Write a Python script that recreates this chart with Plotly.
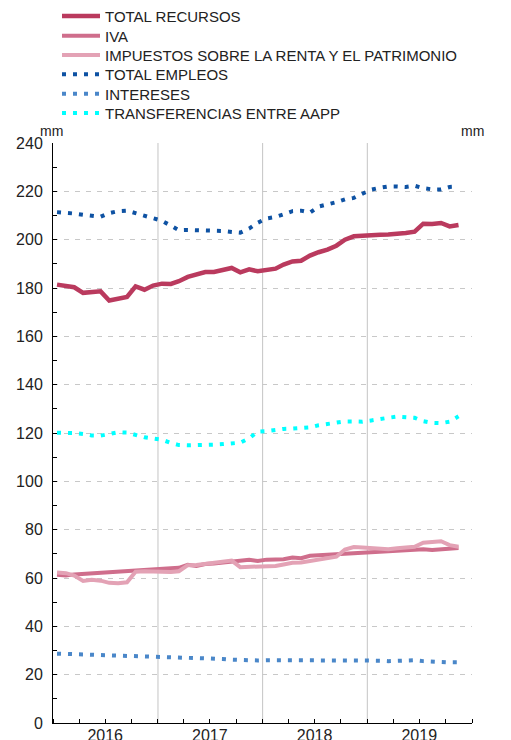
import plotly.graph_objects as go
import pandas as pd

# Monthly data, Jan 2016 - Nov 2019 (mm euros)
months = pd.date_range("2016-01-01", periods=47, freq="MS") + pd.Timedelta(days=14)

total_recursos = [181.4, 180.7, 180.3, 178.0, 178.3, 178.6, 174.8, 175.5, 176.3, 180.7, 179.3, 181.0,
                  181.8, 181.7, 182.8, 184.6, 185.5, 186.6, 186.6, 187.5, 188.3, 186.5, 187.7, 186.9,
                  187.3, 188.0, 189.7, 191.0, 191.3, 193.4, 194.8, 195.9, 197.5, 200.0, 201.4, 201.7,
                  201.8, 202.0, 202.1, 202.3, 202.8, 203.3, 206.6, 206.5, 206.9, 205.5, 206.1]
iva = [61.3, 61.0, 61.5, 61.7, 61.8, 62.2, 62.3, 62.6, 62.9, 63.0, 63.0, 63.2,
       63.8, 64.0, 64.2, 65.5, 65.0, 65.8, 66.0, 66.4, 66.8, 67.2, 67.5, 67.0,
       67.6, 67.7, 67.8, 68.5, 68.2, 69.2, 69.4, 69.6, 70.0, 70.2, 70.4, 70.5,
       70.6, 70.8, 71.0, 71.2, 71.4, 71.5, 71.9, 71.6, 71.8, 72.1, 72.4]
impuestos = [62.3, 62.0, 61.0, 58.8, 59.3, 58.9, 58.0, 57.8, 58.2, 62.6, 62.8, 62.6,
             62.6, 62.5, 62.8, 65.3, 65.4, 65.8, 66.3, 66.8, 67.2, 64.5, 64.7, 64.8,
             64.9, 65.0, 65.6, 66.3, 66.4, 67.0, 67.8, 68.5, 68.8, 71.8, 72.8, 72.6,
             72.5, 72.4, 71.9, 72.3, 72.6, 72.9, 74.6, 74.9, 75.2, 73.6, 72.9]
total_empleos = [211.4, 211.3, 210.8, 210.3, 210.0, 209.5, 211.0, 211.8, 212.0, 211.0, 210.2, 209.0,
                 207.8, 205.8, 203.9, 204.0, 204.0, 204.0, 203.7, 203.6, 203.2, 202.9, 204.6, 207.0,
                 208.8, 209.4, 210.5, 211.8, 212.0, 211.2, 213.7, 214.4, 215.5, 216.7, 217.3, 219.0,
                 220.7, 221.5, 222.0, 222.0, 221.8, 222.3, 221.3, 220.8, 220.8, 221.8, 222.0]
intereses = [28.7, 28.6, 28.5, 28.4, 28.3, 28.2, 28.1, 28.0, 27.9, 27.8, 27.7, 27.5,
             27.4, 27.2, 27.0, 26.9, 26.8, 26.8, 26.7, 26.5, 26.2, 26.0, 25.9, 25.9,
             26.0, 26.0, 25.9, 25.9, 26.0, 26.1, 26.2, 26.2, 26.2, 26.2, 26.1, 26.0,
             26.0, 25.8, 25.6, 25.7, 25.9, 26.0, 25.6, 25.3, 25.1, 25.1, 25.1]
transferencias = [120.1, 120.1, 120.0, 119.6, 119.0, 118.9, 119.7, 120.3, 120.2, 119.1, 118.2, 117.7,
                  117.2, 115.9, 115.0, 114.9, 114.9, 115.1, 115.2, 115.4, 115.6, 116.0, 117.8, 120.6,
                  120.8, 121.3, 121.7, 121.8, 121.9, 122.3, 123.2, 123.8, 124.1, 124.8, 124.8, 124.7,
                  125.2, 125.6, 126.3, 126.8, 126.6, 126.3, 124.9, 124.2, 124.1, 124.7, 126.9]

years = [2016, 2017, 2018, 2019]
y_ticks = list(range(0, 241, 20))

series = [
    ("TOTAL RECURSOS", total_recursos, "#BA3A5E", "solid", 4.5),
    ("IVA", iva, "#CF6E8C", "solid", 4),
    ("IMPUESTOS SOBRE LA RENTA Y EL PATRIMONIO", impuestos, "#E3A2B5", "solid", 4),
    ("TOTAL EMPLEOS", total_empleos, "#0E52A3", "4px,7px", 4),
    ("INTERESES", intereses, "#4A87C9", "4px,7px", 4),
    ("TRANSFERENCIAS ENTRE AAPP", transferencias, "#00FFFF", "4px,7px", 4),
]

# The page body adds an 8px offset; the figure is sized to fill the rest of the window.
OFF = 8
W, H = 511 - OFF, 740 - OFF
L, R, T, B = 53 - OFF, 39, 143 - OFF, 17
PW, PH = W - L - R, H - T - B
legend_rows_px = [16.3, 36.0, 55.2, 74.6, 94.0, 113.3]
legend_left_px = 57

fig = go.Figure()
legend_layouts = {}
for k, (name, vals, color, dash, w) in enumerate(series):
    lname = "legend" if k == 0 else f"legend{k+1}"
    fig.add_trace(go.Scatter(x=months, y=vals, mode="lines", name=name, legend=lname,
                             line=dict(color=color, dash=dash, width=w)))
    legend_layouts[lname] = dict(
        x=(legend_left_px - OFF - L) / PW, y=1 + (T - (legend_rows_px[k] - OFF)) / PH,
        xref="paper", yref="paper", xanchor="left", yanchor="middle",
        bgcolor="rgba(0,0,0,0)", borderwidth=0, itemwidth=38,
        font=dict(size=15, color="#222222"),
    )

font = "Liberation Sans, Arial, Helvetica, sans-serif"

for yr in years[1:]:
    fig.add_shape(type="line", xref="x", yref="paper", x0=f"{yr}-01-01", x1=f"{yr}-01-01",
                  y0=0, y1=1, line=dict(color="#c4c4c4", width=1), layer="below")

fig.update_layout(
    template="none",
    width=W, height=H,
    margin=dict(l=L, r=R, t=T, b=B, pad=0, autoexpand=False),
    paper_bgcolor="white", plot_bgcolor="white",
    font=dict(family=font, size=15, color="#222222"),
    showlegend=True,
    **legend_layouts,
    xaxis=dict(
        type="date", range=["2016-01-01", "2020-01-01"],
        tickmode="array",
        tickvals=[f"{y}-07-01" for y in years],
        ticktext=[str(y) for y in years],
        ticks="", showgrid=False, zeroline=False,
        showline=True, linecolor="black", linewidth=1,
        automargin=False, ticklabelstandoff=-2,
        minor=dict(dtick="M3", tick0="2016-01-01", ticks="inside", ticklen=4,
                   tickcolor="black", tickwidth=1, showgrid=False),
        tickfont=dict(size=16, color="#222222"),
    ),
    yaxis=dict(
        range=[0, 240], tickmode="array", tickvals=y_ticks,
        ticks="inside", ticklen=4, tickcolor="black", ticklabelstandoff=6,
        showgrid=True, gridcolor="#c8c8c8", griddash="5px,6px", gridwidth=1,
        zeroline=False, showline=True, linecolor="black", linewidth=1,
        minor=dict(dtick=10, ticks="inside", ticklen=4, tickcolor="black", showgrid=False),
        tickfont=dict(size=16, color="#222222"), automargin=False,
    ),
    yaxis2=dict(
        range=[0, 240], tickmode="array", tickvals=y_ticks, overlaying="y", side="right",
        ticks="inside", ticklen=4, tickcolor="black", showgrid=False, ticklabelstandoff=4,
        zeroline=False, showline=True, linecolor="black", linewidth=1,
        minor=dict(dtick=10, ticks="inside", ticklen=4, tickcolor="black"),
        tickfont=dict(size=16, color="#222222"), automargin=False,
    ),
    annotations=[
        dict(text="mm", xref="paper", yref="paper", x=0, y=1, yshift=12,
             xanchor="center", yanchor="middle", showarrow=False, xshift=-2,
             font=dict(size=14, color="#222222")),
        dict(text="mm", xref="paper", yref="paper", x=1, y=1, yshift=12,
             xanchor="center", yanchor="middle", showarrow=False, xshift=0,
             font=dict(size=14, color="#222222")),
    ],
)

fig.write_html("out.html")
